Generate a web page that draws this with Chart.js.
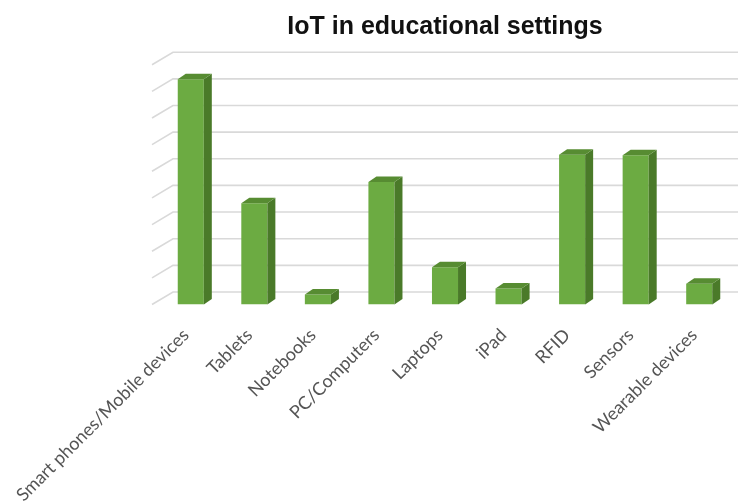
<!DOCTYPE html>
<html>
<head>
<meta charset="utf-8">
<script src="https://cdn.jsdelivr.net/npm/chart.js@4.4.1/dist/chart.umd.min.js"></script>
<style>
  html, body { margin: 0; padding: 0; background: #fff; }
  #wrap { width: 738px; height: 504px; }
</style>
</head>
<body>
<div id="wrap"><canvas id="iotChart" width="738" height="504"></canvas></div>
<script>
const categories = [
  'Smart phones/Mobile devices', 'Tablets', 'Notebooks', 'PC/Computers',
  'Laptops', 'iPad', 'RFID', 'Sensors', 'Wearable devices'
];
const usageCounts = [16.9, 7.6, 0.75, 9.2, 2.8, 1.2, 11.25, 11.2, 1.55];
const yMin = 0;
const yMax = 18;
const yStep = 2;

const frontColor = '#6cab42';
const sideColor = '#4a7a29';
const topColor = '#578c32';

// back wall + left wall gridlines, offset from the front plane
const wallPlugin = {
  id: 'wall',
  beforeDatasetsDraw(chart) {
    const { ctx, chartArea, scales } = chart;
    const y = scales.y;
    const x0 = chartArea.left - 7;
    const dx = 21, dy = 12.5;
    ctx.save();
    ctx.strokeStyle = '#d9d9d9';
    ctx.lineWidth = 1.6;
    for (let v = yMin; v <= yMax; v += yStep) {
      const py = y.getPixelForValue(v);
      ctx.beginPath();
      ctx.moveTo(x0, py);
      ctx.lineTo(x0 + dx, py - dy);
      ctx.lineTo(chart.width, py - dy);
      ctx.stroke();
    }
    ctx.restore();
  }
};

// side and top faces of each bar
const bar3dPlugin = {
  id: 'bar3d',
  afterDatasetsDraw(chart) {
    const { ctx } = chart;
    const dx = 8, dy = 5.5;
    chart.getDatasetMeta(0).data.forEach(bar => {
      const { x, y, base, width } = bar.getProps(['x', 'y', 'base', 'width'], true);
      const l = x - width / 2, r = x + width / 2;
      ctx.save();
      ctx.fillStyle = sideColor;
      ctx.beginPath();
      ctx.moveTo(r, y);
      ctx.lineTo(r + dx, y - dy);
      ctx.lineTo(r + dx, base - dy);
      ctx.lineTo(r, base);
      ctx.closePath();
      ctx.fill();
      ctx.fillStyle = topColor;
      ctx.beginPath();
      ctx.moveTo(l, y);
      ctx.lineTo(r, y);
      ctx.lineTo(r + dx, y - dy);
      ctx.lineTo(l + dx, y - dy);
      ctx.closePath();
      ctx.fill();
      ctx.restore();
    });
  }
};

new Chart(document.getElementById('iotChart'), {
  type: 'bar',
  data: {
    labels: categories,
    datasets: [{
      data: usageCounts,
      backgroundColor: frontColor,
      borderWidth: 0,
      barPercentage: 0.41,
      categoryPercentage: 1.0
    }]
  },
  options: {
    responsive: false,
    animation: false,
    layout: { padding: { left: 159, right: 7, top: 0, bottom: 0 } },
    plugins: {
      legend: { display: false },
      tooltip: { enabled: false },
      title: {
        display: true,
        text: 'IoT in educational settings',
        fullSize: false,
        color: '#111',
        font: { family: '"Liberation Sans", Arial, sans-serif', size: 25, weight: 'bold', lineHeight: 1.2 },
        padding: { top: 12, bottom: 22.7 }
      }
    },
    scales: {
      x: {
        grid: { display: false },
        border: { display: false },
        ticks: {
          maxRotation: 45,
          minRotation: 45,
          autoSkip: false,
          padding: 12,
          labelOffset: -5,
          color: '#555',
          font: { family: 'Lato, "Open Sans", sans-serif', size: 18 }
        },
        afterFit(scale) { scale.height = 199.5; }
      },
      y: {
        min: yMin,
        max: yMax,
        ticks: { display: false, stepSize: yStep },
        grid: { display: false, drawTicks: false },
        border: { display: false },
        afterFit(scale) { scale.width = 0; }
      }
    }
  },
  plugins: [wallPlugin, bar3dPlugin]
});
</script>
</body>
</html>
